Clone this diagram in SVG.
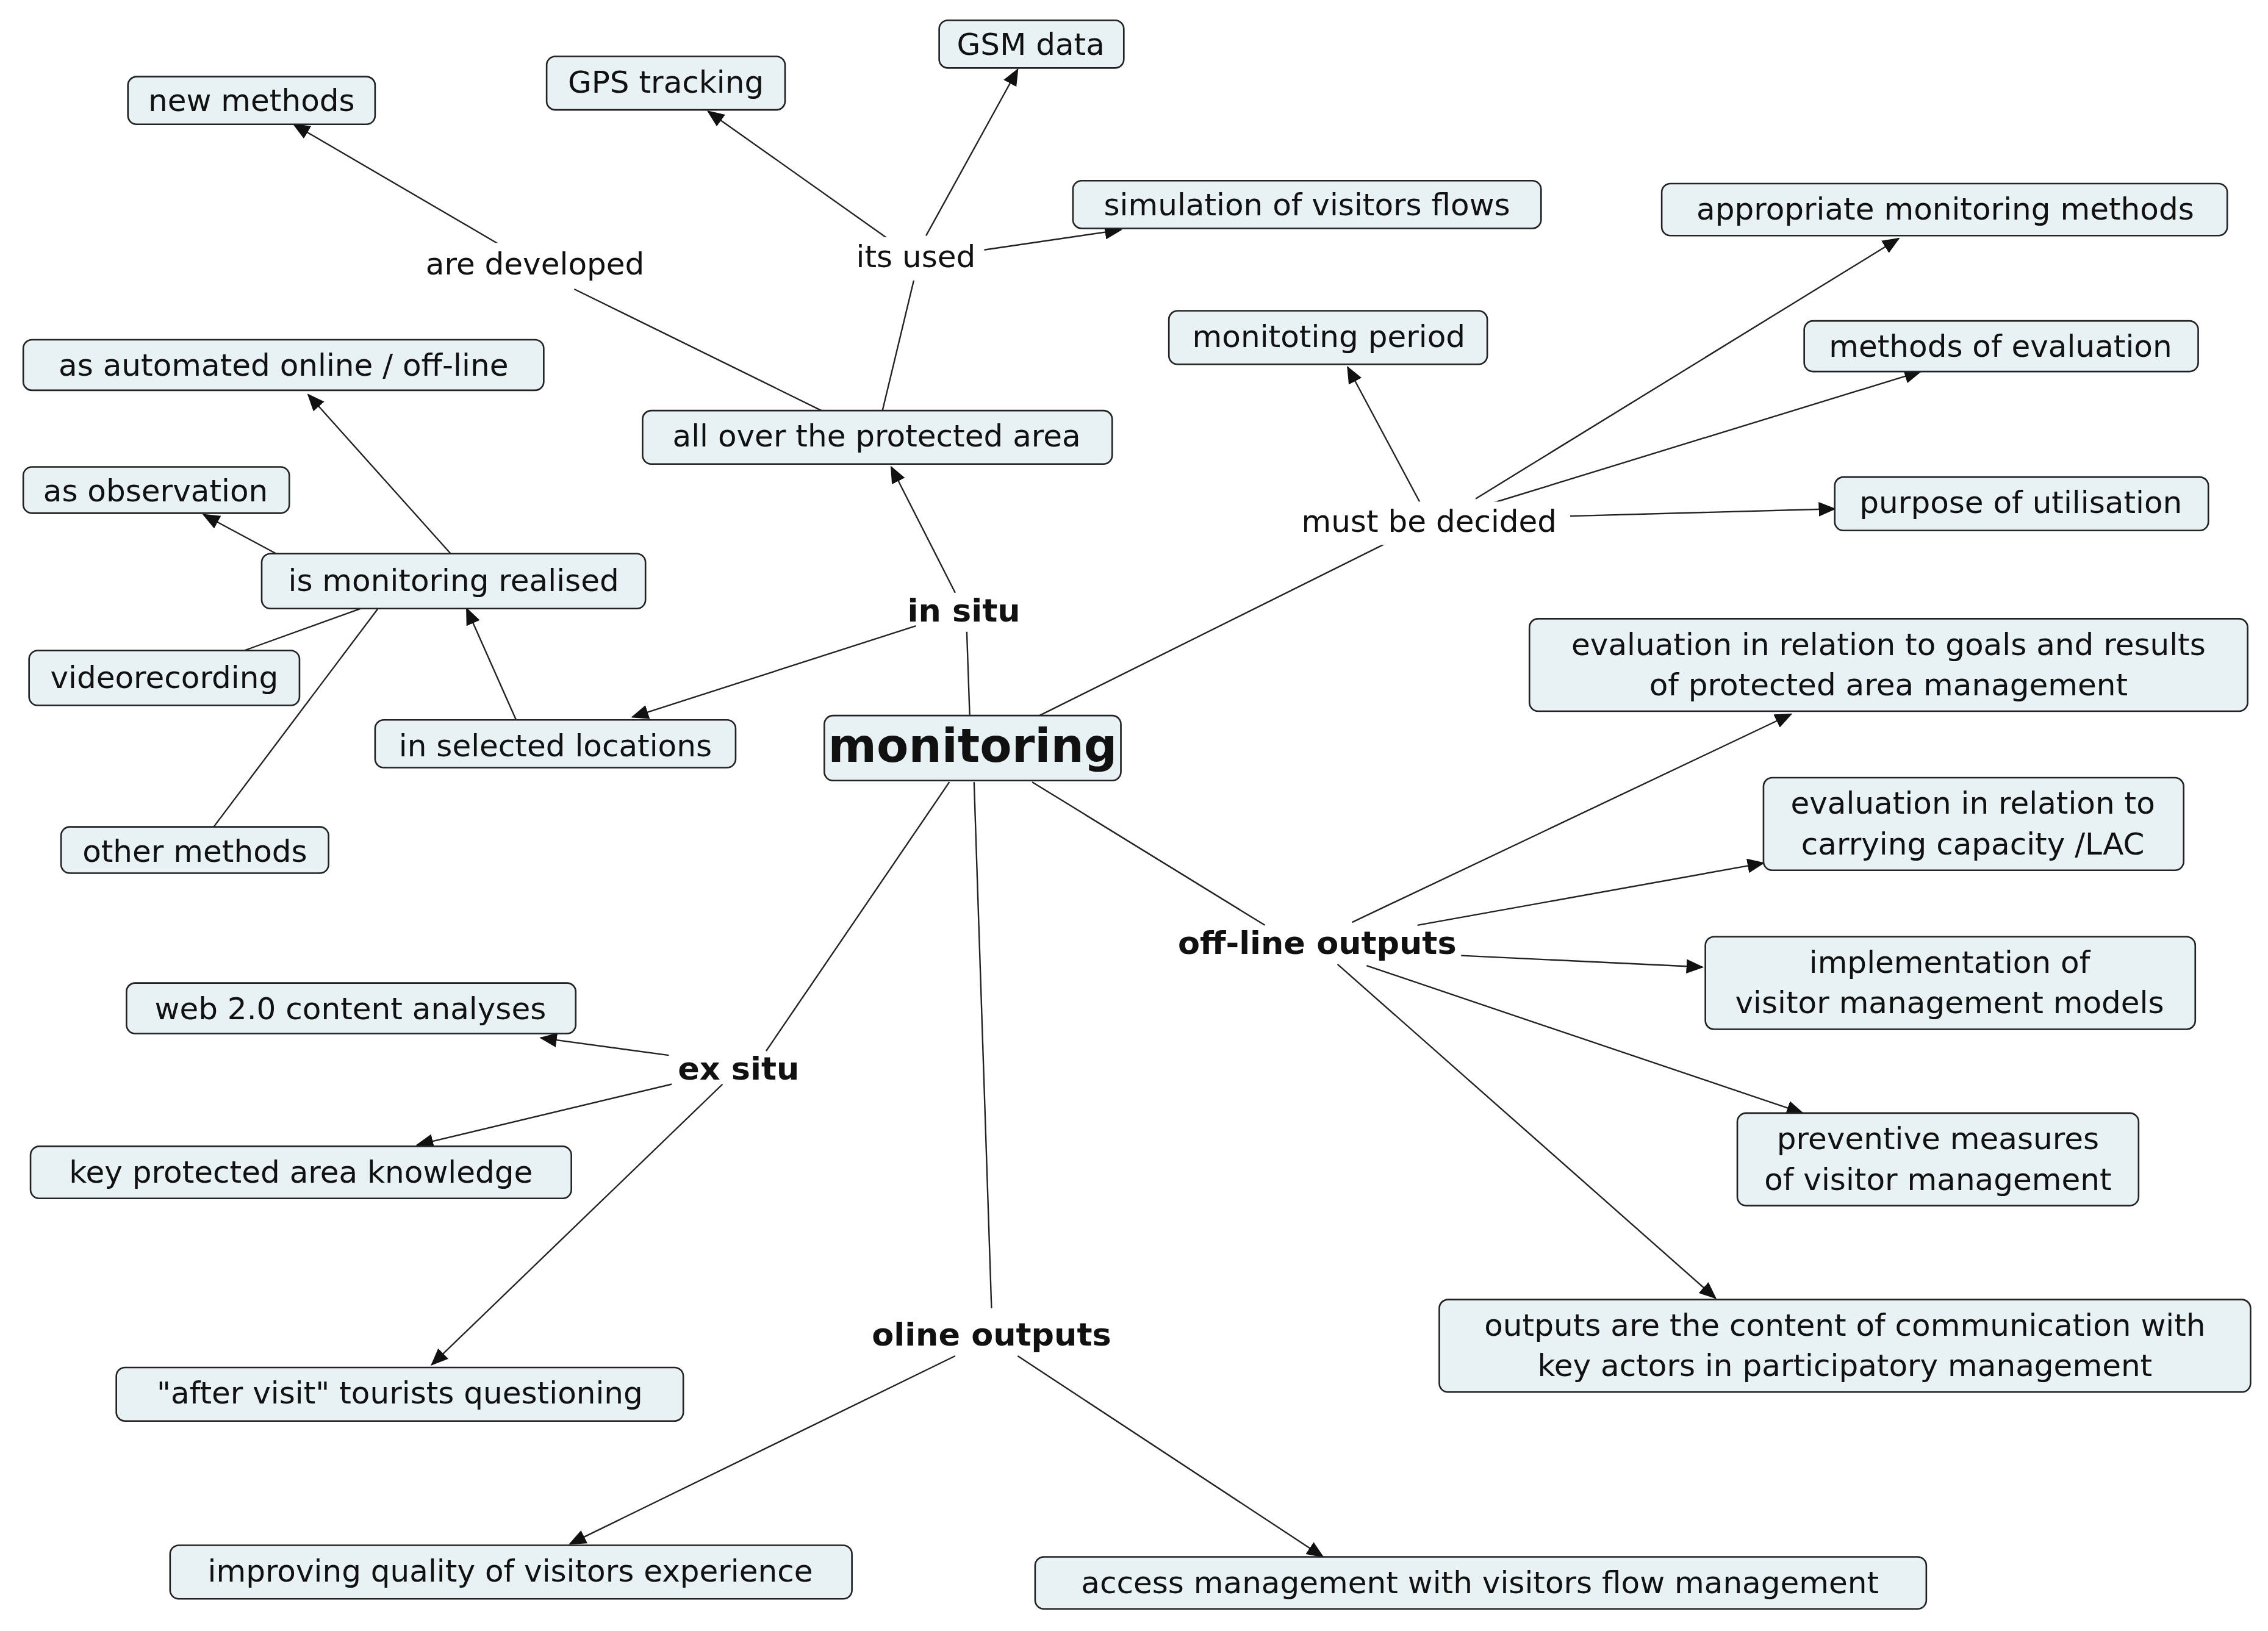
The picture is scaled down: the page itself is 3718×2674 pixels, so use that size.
<svg xmlns="http://www.w3.org/2000/svg" width="3718" height="2674" viewBox="0 0 3718 2674">
<style>
.n rect{fill:#e8f1f4;stroke:#222;stroke-width:1.1}
.n text,.l{font-family:"DejaVu Sans","Liberation Sans",sans-serif;font-size:21px;fill:#111;text-anchor:middle}
.b{font-weight:bold;font-size:22px}
#edges line{stroke:#222;stroke-width:1}
.a{marker-end:url(#ar)}
</style>
<defs><marker id="ar" markerUnits="userSpaceOnUse" markerWidth="12" markerHeight="10" refX="11" refY="5" orient="auto"><path d="M0,0L12,5L0,10z" fill="#111"/></marker></defs>
<rect width="3718" height="2674" fill="#fff"/>
<g transform="scale(2.3833,2.37)">
<g id="edges">
<line x1="667" y1="495" x2="665" y2="437"/>
<line class="a" x1="657" y1="410" x2="613" y2="323"/>
<line class="a" x1="630" y1="433" x2="435" y2="496"/>
<line class="a" x1="355" y1="498" x2="321" y2="421"/>
<line class="a" x1="310" y1="383" x2="212" y2="273"/>
<line class="a" x1="190" y1="383" x2="140" y2="356"/>
<line x1="248" y1="421" x2="168" y2="450"/>
<line x1="260" y1="421" x2="147" y2="572"/>
<line x1="565" y1="284" x2="395" y2="200"/>
<line class="a" x1="345" y1="170" x2="202" y2="86"/>
<line x1="607" y1="284" x2="629" y2="192"/>
<line class="a" x1="637" y1="163" x2="700" y2="48"/>
<line class="a" x1="612" y1="166" x2="487" y2="77"/>
<line class="a" x1="676" y1="173" x2="771" y2="159"/>
<line x1="715" y1="495" x2="965" y2="370"/>
<line class="a" x1="978" y1="350" x2="927" y2="254"/>
<line class="a" x1="1015" y1="345" x2="1306" y2="165"/>
<line class="a" x1="1020" y1="350" x2="1321" y2="257"/>
<line class="a" x1="1080" y1="357" x2="1262" y2="352"/>
<line x1="710" y1="541" x2="870" y2="640"/>
<line class="a" x1="930" y1="638" x2="1232" y2="494"/>
<line class="a" x1="975" y1="640" x2="1213" y2="597"/>
<line class="a" x1="1005" y1="661" x2="1171" y2="669"/>
<line class="a" x1="940" y1="668" x2="1240" y2="770"/>
<line class="a" x1="920" y1="667" x2="1180" y2="898"/>
<line x1="653" y1="541" x2="527" y2="727"/>
<line class="a" x1="460" y1="730" x2="372" y2="718"/>
<line class="a" x1="462" y1="750" x2="287" y2="792"/>
<line class="a" x1="497" y1="750" x2="297" y2="944"/>
<line x1="670" y1="541" x2="682" y2="905"/>
<line class="a" x1="657" y1="938" x2="392" y2="1068"/>
<line class="a" x1="700" y1="938" x2="910" y2="1077"/>
</g>
<g id="lbl-are-developed"><rect x="285" y="168" width="168" height="30" fill="#fff"/><text class="l" x="368" y="190">are developed</text></g>
<g id="lbl-its-used"><rect x="583" y="164" width="94" height="30" fill="#fff"/><text class="l" x="630" y="185">its used</text></g>
<g id="lbl-must"><rect x="886" y="347" width="194" height="30" fill="#fff"/><text class="l" x="983" y="368">must be decided</text></g>
<g id="lbl-insitu"><text class="l b" x="663" y="430">in situ</text></g>
<g id="lbl-exsitu"><text class="l b" x="508" y="747">ex situ</text></g>
<g id="lbl-offline"><text class="l b" x="906" y="660">off-line outputs</text></g>
<g id="lbl-oline"><text class="l b" x="682" y="931">oline outputs</text></g>

<g class="n" id="n-new"><rect x="88" y="53" width="170" height="33" rx="6"/><text x="173" y="77">new methods</text></g>
<g class="n" id="n-gps"><rect x="376" y="39" width="164" height="37" rx="6"/><text x="458" y="64">GPS tracking</text></g>
<g class="n" id="n-gsm"><rect x="646" y="14" width="127" height="33" rx="6"/><text x="709" y="38">GSM data</text></g>
<g class="n" id="n-sim"><rect x="738" y="125" width="322" height="33" rx="6"/><text x="899" y="149">simulation of visitors flows</text></g>
<g class="n" id="n-app"><rect x="1143" y="127" width="389" height="36" rx="6"/><text x="1338" y="152">appropriate monitoring methods</text></g>
<g class="n" id="n-period"><rect x="804" y="215" width="219" height="37" rx="6"/><text x="914" y="240">monitoting period</text></g>
<g class="n" id="n-eval"><rect x="1241" y="222" width="271" height="35" rx="6"/><text x="1376" y="247">methods of evaluation</text></g>
<g class="n" id="n-purpose"><rect x="1262" y="330" width="257" height="37" rx="6"/><text x="1390" y="355">purpose of utilisation</text></g>
<g class="n" id="n-auto"><rect x="16" y="235" width="358" height="35" rx="6"/><text x="195" y="260">as automated online / off-line</text></g>
<g class="n" id="n-allover"><rect x="442" y="284" width="323" height="37" rx="6"/><text x="603" y="309">all over the protected area</text></g>
<g class="n" id="n-obs"><rect x="16" y="323" width="183" height="32" rx="6"/><text x="107" y="347">as observation</text></g>
<g class="n" id="n-realised"><rect x="180" y="383" width="264" height="38" rx="6"/><text x="312" y="409">is monitoring realised</text></g>
<g class="n" id="n-video"><rect x="20" y="450" width="186" height="38" rx="6"/><text x="113" y="476">videorecording</text></g>
<g class="n" id="n-selected"><rect x="258" y="498" width="248" height="33" rx="6"/><text x="382" y="523">in selected locations</text></g>
<g class="n" id="n-monitoring"><rect x="567" y="495" width="204" height="45" rx="6"/><text x="669" y="527" style="font-weight:bold;font-size:32px">monitoring</text></g>
<g class="n" id="n-other"><rect x="42" y="572" width="184" height="32" rx="6"/><text x="134" y="596">other methods</text></g>
<g class="n" id="n-goals"><rect x="1052" y="428" width="494" height="64" rx="6"/><text x="1299" y="453">evaluation in relation to goals and results</text><text x="1299" y="481">of protected area management</text></g>
<g class="n" id="n-carry"><rect x="1213" y="538" width="289" height="64" rx="6"/><text x="1357" y="563">evaluation in relation to</text><text x="1357" y="591">carrying capacity /LAC</text></g>
<g class="n" id="n-impl"><rect x="1173" y="648" width="337" height="64" rx="6"/><text x="1341" y="673">implementation of</text><text x="1341" y="701">visitor management models</text></g>
<g class="n" id="n-prev"><rect x="1195" y="770" width="276" height="64" rx="6"/><text x="1333" y="795">preventive measures</text><text x="1333" y="823">of visitor management</text></g>
<g class="n" id="n-outputs"><rect x="990" y="899" width="558" height="64" rx="6"/><text x="1269" y="924">outputs are the content of communication with</text><text x="1269" y="952">key actors in participatory management</text></g>
<g class="n" id="n-web"><rect x="87" y="680" width="309" height="35" rx="6"/><text x="241" y="705">web 2.0 content analyses</text></g>
<g class="n" id="n-key"><rect x="21" y="793" width="372" height="36" rx="6"/><text x="207" y="818">key protected area knowledge</text></g>
<g class="n" id="n-after"><rect x="80" y="946" width="390" height="37" rx="6"/><text x="275" y="971">"after visit" tourists questioning</text></g>
<g class="n" id="n-improving"><rect x="117" y="1069" width="469" height="37" rx="6"/><text x="351" y="1094">improving quality of visitors experience</text></g>
<g class="n" id="n-access"><rect x="712" y="1077" width="613" height="36" rx="6"/><text x="1018" y="1102">access management with visitors flow management</text></g>
</g>
</svg>
